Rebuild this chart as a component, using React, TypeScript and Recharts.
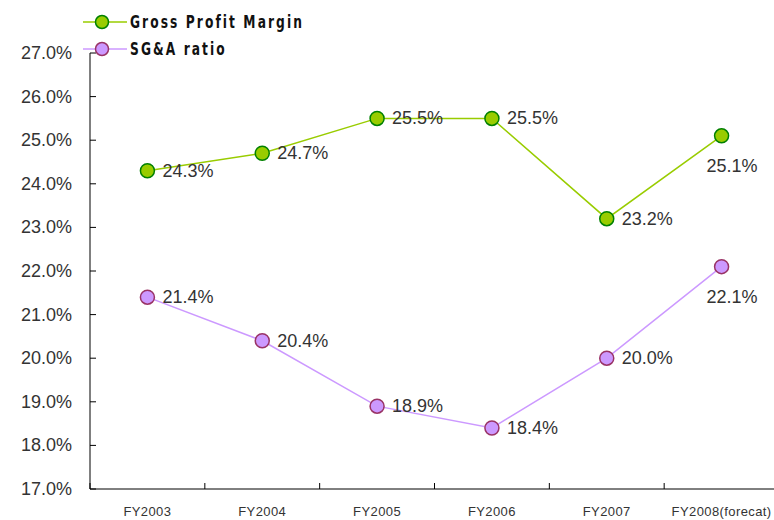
import { LineChart, Line, XAxis, YAxis, LabelList } from "recharts"

const years = ["FY2003", "FY2004", "FY2005", "FY2006", "FY2007", "FY2008(forecat)"]
const grossProfitMargin = [24.3, 24.7, 25.5, 25.5, 23.2, 25.1]
const sgaRatio = [21.4, 20.4, 18.9, 18.4, 20.0, 22.1]
const yTicks = [17, 18, 19, 20, 21, 22, 23, 24, 25, 26, 27]
const seriesNames = ["Gross Profit Margin", "SG&A ratio"]

const CHART_W = 800
const CHART_H = 520
const AXIS_X = 90
const RIGHT = 21
const BAND = (CHART_W - RIGHT - AXIS_X) / years.length

const green = { line: "#99cc00", fill: "#99cc00", stroke: "#008000" }
const purple = { line: "#cc99ff", fill: "#cc99ff", stroke: "#993366" }

const data = years.map((year, i) => ({
  year,
  gpm: grossProfitMargin[i],
  sga: sgaRatio[i]
}))

const YTick = (props: any) => {
  const { x, y, payload } = props
  return (
    <g>
      <text
        x={x}
        y={y}
        textAnchor="end"
        dominantBaseline="central"
        fontSize={18}
        fill="#333"
        fontFamily="Liberation Sans, Arial, sans-serif"
      >
        {payload.value.toFixed(1) + "%"}
      </text>
      <line x1={AXIS_X} x2={AXIS_X + 6} y1={y} y2={y} stroke="#000" />
    </g>
  )
}

const XTick = (props: any) => {
  const { x, y, payload } = props
  const bx = x - BAND / 2
  return (
    <g>
      <line x1={bx} x2={bx} y1={y} y2={y - 6} stroke="#000" />
      <text
        x={x}
        y={y + 22}
        textAnchor="middle"
        dominantBaseline="central"
        fontSize={13}
        letterSpacing={0.4}
        fill="#333"
        fontFamily="Liberation Sans, Arial, sans-serif"
      >
        {payload.value}
      </text>
    </g>
  )
}

const ValueLabel = (props: any) => {
  const { x, y, value, index } = props
  const below = index === years.length - 1
  return (
    <text
      x={below ? x - 15 : x + 15}
      y={below ? y + 30 : y}
      textAnchor="start"
      dominantBaseline="central"
      fontSize={18}
      fill="#333"
      fontFamily="Liberation Sans, Arial, sans-serif"
    >
      {Number(value).toFixed(1) + "%"}
    </text>
  )
}

function LegendBox() {
  const items = [
    { name: seriesNames[0], c: green },
    { name: seriesNames[1], c: purple }
  ]
  return (
    <div style={{ position: "absolute", left: 83, top: 8 }}>
      {items.map((it) => (
        <div key={it.name} style={{ display: "flex", alignItems: "center", height: 27 }}>
          <svg width={44} height={16}>
            <line x1={0} x2={44} y1={8} y2={8} stroke={it.c.line} strokeWidth={1.5} />
            <circle cx={19} cy={8} r={6.5} fill={it.c.fill} stroke={it.c.stroke} strokeWidth={1.5} />
          </svg>
          <span
            style={{
              marginLeft: 3,
              display: "inline-block",
              transform: "scaleX(0.8)",
              transformOrigin: "left center",
              whiteSpace: "nowrap",
              fontFamily: "DejaVu Sans Condensed, DejaVu Sans, sans-serif",
              fontWeight: "bold",
              fontSize: 17,
              letterSpacing: 2.6,
              color: "#111"
            }}
          >
            {it.name}
          </span>
        </div>
      ))}
    </div>
  )
}

export default function App() {
  return (
    <div
      style={{
        position: "fixed",
        left: 0,
        top: 0,
        width: 774,
        height: 520,
        overflow: "hidden",
        background: "#fff"
      }}
    >
      <LineChart
        width={CHART_W}
        height={CHART_H}
        data={data}
        margin={{ top: 53, right: RIGHT, bottom: 0, left: 0 }}
      >
        <XAxis
          dataKey="year"
          height={31}
          tickSize={0}
          tickMargin={0}
          tick={<XTick />}
          stroke="#000"
          interval={0}
          padding={{ left: BAND / 2, right: BAND / 2 }}
        />
        <YAxis
          width={AXIS_X}
          domain={[17, 27]}
          ticks={yTicks}
          tickSize={0}
          tickMargin={18}
          tick={<YTick />}
          stroke="#000"
        />
        <Line
          dataKey="gpm"
          name={seriesNames[0]}
          stroke={green.line}
          strokeWidth={1.5}
          dot={{ r: 7, fill: green.fill, stroke: green.stroke, strokeWidth: 1.5 }}
          isAnimationActive={false}
        >
          <LabelList dataKey="gpm" content={<ValueLabel />} />
        </Line>
        <Line
          dataKey="sga"
          name={seriesNames[1]}
          stroke={purple.line}
          strokeWidth={1.5}
          dot={{ r: 7, fill: purple.fill, stroke: purple.stroke, strokeWidth: 1.5 }}
          isAnimationActive={false}
        >
          <LabelList dataKey="sga" content={<ValueLabel />} />
        </Line>
      </LineChart>
      <LegendBox />
    </div>
  )
}
